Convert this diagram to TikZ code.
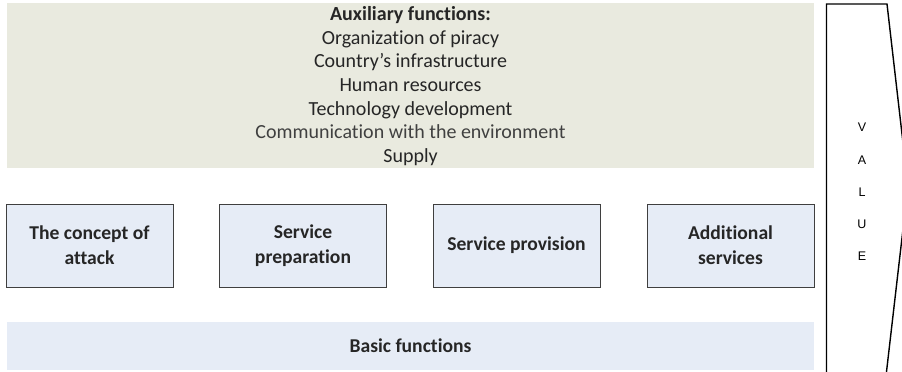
\documentclass[tikz,border=0pt]{standalone}
\usepackage{fontspec}
\setmainfont{Carlito}[Ligatures=NoCommon]
\newfontfamily\valuefont{Liberation Sans}
\definecolor{auxfill}{HTML}{E9EADF}
\definecolor{boxfill}{HTML}{E6ECF6}
\definecolor{txt}{HTML}{262626}
\definecolor{txtlight}{HTML}{404040}
\definecolor{boxline}{HTML}{3F3F3F}
\tikzset{
  panel/.style={inner sep=0pt, outer sep=0pt, align=center, text=txt},
  stepbox/.style={draw=boxline, line width=0.9pt, fill=boxfill, minimum width=167pt, minimum height=83pt,
    inner sep=0pt, align=center, text=txt, font=\bfseries\fontsize{19.6}{25}\selectfont},
}
\begin{document}
\begin{tikzpicture}[x=1pt,y=-1pt]
\useasboundingbox (0,0) rectangle (902,372);
% auxiliary panel
\fill[auxfill] (7,3) rectangle (814,168);
\node[panel, font=\fontsize{20}{23.6}\selectfont, anchor=center] (aux) at (410.5,86)
  {\textbf{Auxiliary functions:}\\
   Organization of piracy\\
   Country’s infrastructure\\
   Human resources\\
   Technology development\\
   \textcolor{txtlight}{Communication with the environment}\\
   Supply};
% step boxes
\node[stepbox] (concept) at (89.5,245.5) {The concept of\\attack};
\node[stepbox] (prep) at (303,245.5) {Service\\preparation};
\node[stepbox] (prov) at (516.5,245.5) {Service provision};
\node[stepbox] (addl) at (730.5,245.5) {Additional\\services};
% basic functions bar
\fill[boxfill] (7,322) rectangle (814,370);
\node[panel, font=\bfseries\fontsize{19.6}{22}\selectfont] (basic) at (410.5,346) {Basic functions};
% value shape
\draw[line width=1.4pt, line join=miter] (826.5,376) -- (826.5,4) -- (887,4) -- (908,186) -- (886,376);
\node[panel, font=\valuefont\fontsize{12.5}{32.2}\selectfont, text=black] (value) at (862,192)
  {V\\A\\L\\U\\E};
\end{tikzpicture}
\end{document}
